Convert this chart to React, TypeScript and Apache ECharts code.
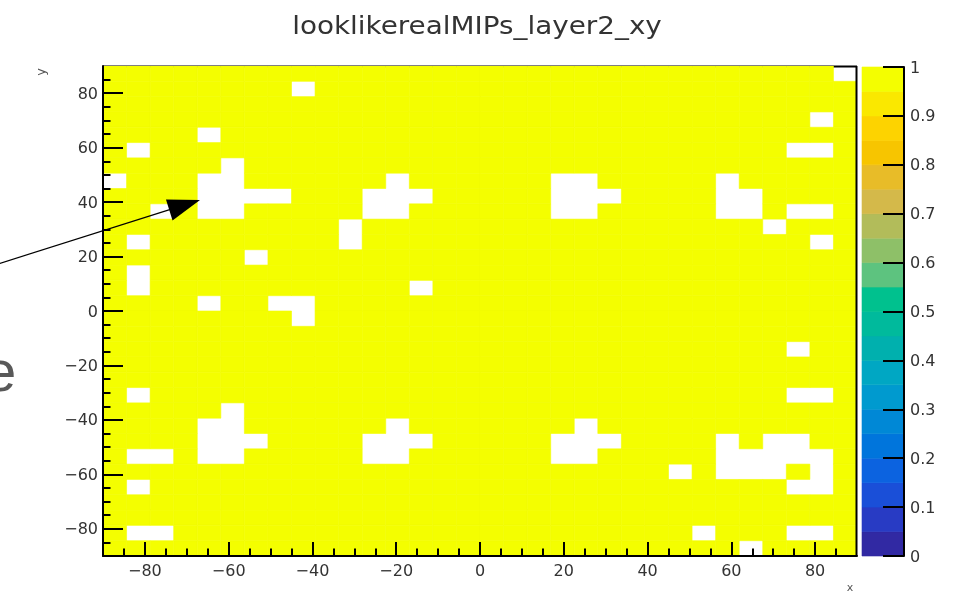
import React, { useEffect, useRef } from 'react';
import * as echarts from 'echarts';

// ---- Data ----
const TITLE = 'looklikerealMIPs_layer2_xy';
const X_MIN = -90;
const X_MAX = 90;
const Y_MIN = -90;
const Y_MAX = 90;
const N_BINS_X = 32;
const N_BINS_Y = 32;
// Bin contents, one string per row, listed from the top row (y = 90) down to y = -90.
// '1' = bin content 1, '0' = empty bin.
const OCCUPANCY_ROWS = [
  '11111111111111111111111111111110',
  '11111111011111111111111111111111',
  '11111111111111111111111111111111',
  '11111111111111111111111111111101',
  '11110111111111111111111111111111',
  '10111111111111111111111111111001',
  '11111011111111111111111111111111',
  '01110011111101111110011111011111',
  '11110000111000111110001111001111',
  '11010011111001111110011111001001',
  '11111111110111111111111111110111',
  '10111111110111111111111111111101',
  '11111101111111111111111111111111',
  '10111111111111111111111111111111',
  '10111111111110111111111111111111',
  '11110110011111111111111111111111',
  '11111111011111111111111111111111',
  '11111111111111111111111111111111',
  '11111111111111111111111111111011',
  '11111111111111111111111111111111',
  '11111111111111111111111111111111',
  '10111111111111111111111111111001',
  '11111011111111111111111111111111',
  '11110011111101111111011111111111',
  '11110001111000111110001111010011',
  '10010011111001111110011111000001',
  '11111111111111111111111101000101',
  '10111111111111111111111111111001',
  '11111111111111111111111111111111',
  '11111111111111111111111111111111',
  '10011111111111111111111110111001',
  '11111111111111111111111111101111',
];
const X_MAJOR_TICKS = [-80, -60, -40, -20, 0, 20, 40, 60, 80];
const X_MINOR_TICKS = [-85, -80, -75, -70, -65, -60, -55, -50, -45, -40, -35, -30, -25, -20, -15, -10, -5, 0, 5, 10, 15, 20, 25, 30, 35, 40, 45, 50, 55, 60, 65, 70, 75, 80, 85];
const Y_MAJOR_TICKS = [-80, -60, -40, -20, 0, 20, 40, 60, 80];
const Y_MINOR_TICKS = [-85, -80, -75, -70, -65, -60, -55, -50, -45, -40, -35, -30, -25, -20, -15, -10, -5, 0, 5, 10, 15, 20, 25, 30, 35, 40, 45, 50, 55, 60, 65, 70, 75, 80, 85];
const Z_MIN = 0;
const Z_MAX = 1;
// 20 contour colours, from z = 0 (bottom) to z = 1 (top)
const PALETTE = [
  '#3129A3', '#283BC4', '#1A4FD8', '#0C63E0', '#0075DC',
  '#0088D6', '#009ACF', '#00A7C3', '#00B0AE', '#00BA9C',
  '#00C18E', '#5DC37F', '#8EC068', '#B2BC5A', '#D4B94A',
  '#E8BC28', '#F7C500', '#FDD300', '#FAE800', '#F4FE00',
];

const FONT = 'DejaVu Sans';
const TEXT_COLOR = '#333';

function minusFmt(v: number) {
  return v < 0 ? '\u2212' + Math.abs(v) : String(v);
}

export default function App() {
  const ref = useRef<HTMLDivElement>(null);

  useEffect(() => {
    if (!ref.current) return;
    const chart = echarts.init(ref.current, null, { renderer: 'svg' });

    const bx = (X_MAX - X_MIN) / N_BINS_X;
    const by = (Y_MAX - Y_MIN) / N_BINS_Y;
    const nLev = PALETTE.length;

    const cells: number[][] = [];
    OCCUPANCY_ROWS.forEach((row, r) => {
      const j = N_BINS_Y - 1 - r;
      for (let i = 0; i < N_BINS_X; i++) {
        const v = Number(row[i]);
        if (v > 0) {
          cells.push([X_MIN + i * bx, Y_MIN + j * by, X_MIN + (i + 1) * bx, Y_MIN + (j + 1) * by, v]);
        }
      }
    });

    const bands = PALETTE.map((_, k) => [
      Z_MIN + (k * (Z_MAX - Z_MIN)) / nLev,
      Z_MIN + ((k + 1) * (Z_MAX - Z_MIN)) / nLev,
      k,
    ]);

    const colorOf = (v: number) => {
      const k = Math.min(nLev - 1, Math.max(0, Math.floor(((v - Z_MIN) / (Z_MAX - Z_MIN)) * nLev)));
      return PALETTE[k];
    };

    const labelStyle = {
      color: TEXT_COLOR,
      fontFamily: FONT,
      fontSize: 16,
    };

    const plotL = 103;
    const plotT = 66;
    const plotW = 754;
    const plotH = 490;

    const option: any = {
      animation: false,
      grid: [
        { left: plotL, top: plotT, width: plotW, height: plotH, containLabel: false },
        { left: 862, top: 67, width: 42, height: 489, containLabel: false },
      ],
      xAxis: [
        {
          gridIndex: 0, type: 'value', min: X_MIN, max: X_MAX, position: 'bottom', z: 10,
          axisLine: { show: true, onZero: false, lineStyle: { color: '#000', width: 2 } },
          axisTick: { show: true, inside: true, length: 14, customValues: X_MAJOR_TICKS, lineStyle: { color: '#000', width: 2 } },
          axisLabel: { show: true, customValues: X_MAJOR_TICKS, margin: 6, formatter: minusFmt, ...labelStyle },
          splitLine: { show: false },
        },
        {
          gridIndex: 0, type: 'value', min: X_MIN, max: X_MAX, position: 'bottom', z: 10,
          axisLine: { show: false, onZero: false },
          axisTick: { show: true, inside: true, length: 7.5, customValues: X_MINOR_TICKS, lineStyle: { color: '#000', width: 2 } },
          axisLabel: { show: false },
          splitLine: { show: false },
        },
        {
          gridIndex: 1, type: 'value', min: 0, max: 1, show: false,
        },
      ],
      yAxis: [
        {
          gridIndex: 0, type: 'value', min: Y_MIN, max: Y_MAX, position: 'left', z: 10,
          axisLine: { show: true, onZero: false, lineStyle: { color: '#000', width: 2 } },
          axisTick: { show: true, inside: true, length: 20, customValues: Y_MAJOR_TICKS, lineStyle: { color: '#000', width: 2 } },
          axisLabel: { show: true, customValues: Y_MAJOR_TICKS, margin: 5, formatter: minusFmt, ...labelStyle },
          splitLine: { show: false },
        },
        {
          gridIndex: 0, type: 'value', min: Y_MIN, max: Y_MAX, position: 'left', z: 10,
          axisLine: { show: false, onZero: false },
          axisTick: { show: true, inside: true, length: 7.5, customValues: Y_MINOR_TICKS, lineStyle: { color: '#000', width: 2 } },
          axisLabel: { show: false },
          splitLine: { show: false },
        },
        {
          gridIndex: 1, type: 'value', min: Z_MIN, max: Z_MAX, interval: 0.1, position: 'right', z: 10,
          axisLine: { show: true, onZero: false, lineStyle: { color: '#000', width: 2 } },
          axisTick: { show: true, inside: true, length: 21, lineStyle: { color: '#000', width: 2 } },
          axisLabel: { show: true, margin: 6, ...labelStyle },
          splitLine: { show: false },
        },
      ],
      series: [
        {
          type: 'custom',
          name: 'bins',
          xAxisIndex: 0,
          yAxisIndex: 0,
          clip: true,
          silent: true,
          z: 2,
          encode: { x: [0, 2], y: [1, 3] },
          data: cells,
          renderItem: (params: any, api: any) => {
            const p0 = api.coord([api.value(0), api.value(3)]);
            const p1 = api.coord([api.value(2), api.value(1)]);
            const c = colorOf(api.value(4));
            return {
              type: 'rect',
              shape: { x: p0[0], y: p0[1], width: p1[0] - p0[0], height: p1[1] - p0[1] },
              style: { fill: c, stroke: c, lineWidth: 0.6 },
            };
          },
        },
        {
          type: 'custom',
          name: 'palette',
          xAxisIndex: 2,
          yAxisIndex: 2,
          silent: true,
          z: 2,
          encode: { y: [0, 1] },
          data: bands,
          renderItem: (params: any, api: any) => {
            const p0 = api.coord([0, api.value(1)]);
            const p1 = api.coord([1, api.value(0)]);
            const c = PALETTE[api.value(2)];
            return {
              type: 'rect',
              shape: { x: p0[0], y: p0[1], width: p1[0] - p0[0], height: p1[1] - p0[1] },
              style: { fill: c, stroke: c, lineWidth: 0.6 },
            };
          },
        },
      ],
      graphic: [
        // frame: top edge (under the bins) and right edge (on top)
        { type: 'line', z: 1, shape: { x1: plotL, y1: plotT + 0.5, x2: plotL + plotW, y2: plotT + 0.5 }, style: { stroke: '#000', lineWidth: 2 } },
        { type: 'line', z: 20, shape: { x1: plotL + plotW - 0.5, y1: plotT, x2: plotL + plotW - 0.5, y2: plotT + plotH }, style: { stroke: '#000', lineWidth: 2 } },
        // title
        {
          type: 'text', x: 477, y: 26, scaleX: 1.16, z: 20,
          style: { text: TITLE, fontSize: 24, fontFamily: FONT, fill: TEXT_COLOR, align: 'center', verticalAlign: 'middle' },
        },
        // axis titles
        { type: 'text', x: 850, y: 587, z: 20, style: { text: 'x', fontSize: 11, fontFamily: FONT, fill: '#555', align: 'center', verticalAlign: 'middle' } },
        { type: 'text', x: 40, y: 72, rotation: Math.PI / 2, z: 20, style: { text: 'y', fontSize: 13, fontFamily: FONT, fill: '#555', align: 'center', verticalAlign: 'middle' } },
        // annotation arrow
        { type: 'line', z: 30, shape: { x1: -5, y1: 264.9, x2: 176, y2: 207.6 }, style: { stroke: '#000', lineWidth: 1.2 } },
        { type: 'polygon', z: 30, shape: { points: [[200, 200], [166, 199.5], [172.5, 220.5]] }, style: { fill: '#000' } },
        // cropped slide text (partly outside the picture, as in the reference)
        { type: 'text', x: -16, y: 370, z: 30, style: { text: 'e', fontSize: 58, fontFamily: 'Liberation Sans', fill: '#595959', align: 'left', verticalAlign: 'middle' } },
      ],
    };

    chart.setOption(option);
    return () => chart.dispose();
  }, []);

  return <div ref={ref} style={{ position: 'fixed', left: 0, top: 0, width: 957, height: 597 }} />;
}
